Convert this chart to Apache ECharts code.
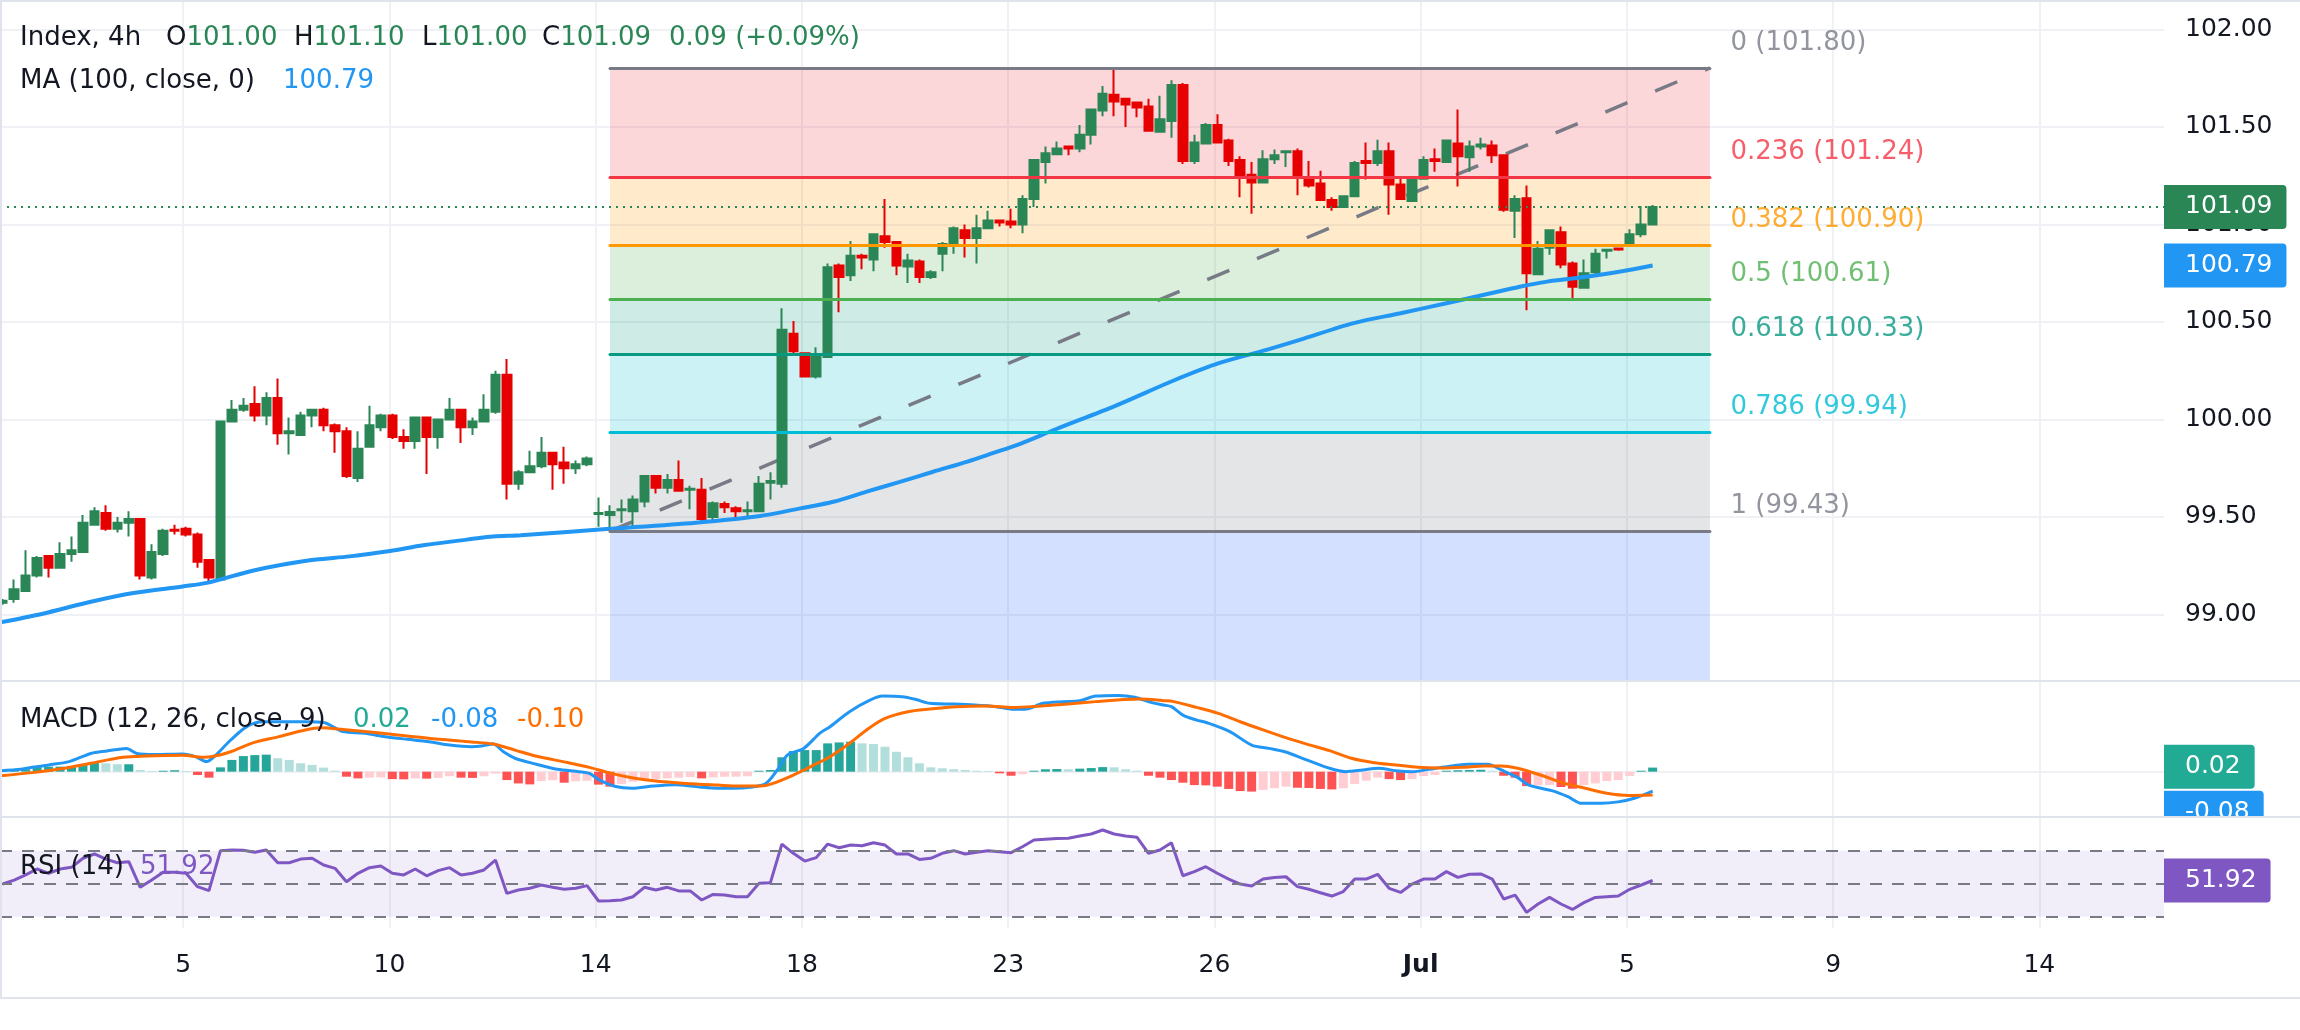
<!DOCTYPE html>
<html>
<head>
<meta charset="utf-8">
<title>Index, 4h</title>
<script src="https://cdn.jsdelivr.net/npm/echarts@6/dist/echarts.min.js"></script>
<style>
  html, body { margin: 0; padding: 0; background: #fff; }
  #main { width: 2300px; height: 1030px; }
</style>
</head>
<body>
<div id="main"></div>
<script>
// 4h bars, index 0 = first bar on screen
const opens = [
  99.06, 99.08, 99.12, 99.20, 99.30, 99.24, 99.31, 99.32, 99.46, 99.52,
  99.44, 99.47, 99.49, 99.19, 99.31, 99.435, 99.44, 99.41, 99.28, 99.18,
  99.99, 100.05, 100.08, 100.02, 100.11, 99.93, 99.92, 100.02, 100.05, 99.97,
  99.94, 99.70, 99.86, 99.96, 100.02, 99.91, 99.89, 100.01, 99.91, 100.00,
  100.05, 99.96, 99.99, 100.04, 100.23, 99.67, 99.73, 99.76, 99.83, 99.78,
  99.75, 99.77, 99.515, 99.51, 99.535, 99.53, 99.58, 99.71, 99.65, 99.69,
  99.64, 99.64, 99.50, 99.567, 99.545, 99.53, 99.53, 99.675, 99.67, 100.44,
  100.34, 100.22, 100.32, 100.79, 100.74, 100.84, 100.82, 100.94, 100.91, 100.785,
  100.81, 100.73, 100.85, 100.895, 100.97, 100.93, 100.98, 101.02, 101.015, 101.00,
  101.13, 101.32, 101.36, 101.40, 101.39, 101.46, 101.585, 101.665, 101.645, 101.625,
  101.605, 101.475, 101.53, 101.715, 101.325, 101.415, 101.51, 101.43, 101.33, 101.255,
  101.215, 101.335, 101.37, 101.375, 101.24, 101.21, 101.125, 101.09, 101.145, 101.325,
  101.315, 101.375, 101.205, 101.12, 101.235, 101.335, 101.32, 101.415, 101.345, 101.40,
  101.405, 101.355, 101.07, 101.135, 100.745, 100.88, 100.96, 100.80, 100.675, 100.755,
  100.865, 100.877, 100.90, 100.95, 101.00
];
const highs = [
  99.08, 99.18, 99.33, 99.30, 99.30, 99.37, 99.40, 99.51, 99.55, 99.56,
  99.50, 99.53, 99.49, 99.36, 99.44, 99.46, 99.45, 99.42, 99.28, 99.99,
  100.10, 100.11, 100.17, 100.14, 100.21, 100.01, 100.04, 100.05, 100.06, 99.98,
  99.96, 99.94, 100.07, 100.03, 100.03, 99.95, 100.01, 100.01, 100.00, 100.11,
  100.05, 100.01, 100.13, 100.25, 100.31, 99.74, 99.84, 99.91, 99.83, 99.86,
  99.79, 99.81, 99.60, 99.56, 99.59, 99.61, 99.71, 99.715, 99.72, 99.79,
  99.66, 99.70, 99.58, 99.58, 99.555, 99.58, 99.71, 99.73, 100.57, 100.505,
  100.34, 100.37, 100.80, 100.80, 100.915, 100.85, 100.95, 101.13, 100.915, 100.85,
  100.82, 100.765, 100.91, 100.99, 101.00, 101.05, 101.07, 101.02, 101.08, 101.15,
  101.33, 101.40, 101.425, 101.40, 101.51, 101.59, 101.71, 101.80, 101.65, 101.63,
  101.645, 101.66, 101.74, 101.725, 101.46, 101.52, 101.565, 101.44, 101.35, 101.32,
  101.38, 101.385, 101.375, 101.39, 101.325, 101.275, 101.14, 101.145, 101.325, 101.42,
  101.435, 101.42, 101.24, 101.245, 101.35, 101.39, 101.43, 101.59, 101.43, 101.445,
  101.43, 101.355, 101.15, 101.20, 100.915, 100.975, 100.99, 100.81, 100.82, 100.875,
  100.875, 100.88, 100.975, 101.095, 101.10
];
const lows = [
  99.05, 99.06, 99.12, 99.19, 99.19, 99.24, 99.27, 99.32, 99.46, 99.43,
  99.42, 99.40, 99.18, 99.18, 99.30, 99.41, 99.40, 99.24, 99.16, 99.18,
  99.99, 100.04, 99.99, 99.97, 99.87, 99.82, 99.92, 99.96, 99.94, 99.83,
  99.70, 99.68, 99.86, 99.94, 99.90, 99.85, 99.85, 99.72, 99.85, 100.00,
  99.88, 99.92, 99.99, 100.03, 99.59, 99.64, 99.73, 99.75, 99.64, 99.67,
  99.72, 99.76, 99.45, 99.43, 99.47, 99.44, 99.55, 99.62, 99.62, 99.635,
  99.54, 99.47, 99.48, 99.52, 99.49, 99.50, 99.53, 99.59, 99.65, 100.33,
  100.22, 100.21, 100.32, 100.55, 100.71, 100.77, 100.76, 100.88, 100.74, 100.70,
  100.70, 100.72, 100.76, 100.85, 100.83, 100.80, 100.98, 100.99, 100.98, 100.955,
  101.09, 101.21, 101.36, 101.355, 101.37, 101.41, 101.555, 101.555, 101.50, 101.55,
  101.475, 101.47, 101.445, 101.31, 101.31, 101.41, 101.42, 101.30, 101.14, 101.055,
  101.215, 101.31, 101.295, 101.15, 101.19, 101.12, 101.07, 101.085, 101.14, 101.23,
  101.30, 101.05, 101.125, 101.12, 101.235, 101.27, 101.315, 101.195, 101.27, 101.385,
  101.315, 101.065, 100.93, 100.56, 100.745, 100.845, 100.775, 100.61, 100.675, 100.745,
  100.825, 100.865, 100.90, 100.935, 101.00
];
const closes = [
  99.07, 99.13, 99.20, 99.29, 99.24, 99.31, 99.33, 99.47, 99.53, 99.44,
  99.47, 99.49, 99.20, 99.32, 99.43, 99.43, 99.41, 99.27, 99.19, 99.99,
  100.05, 100.07, 100.02, 100.11, 99.93, 99.94, 100.02, 100.05, 99.97, 99.94,
  99.71, 99.85, 99.97, 100.02, 99.91, 99.89, 100.01, 99.91, 100.00, 100.05,
  99.96, 99.99, 100.05, 100.23, 99.67, 99.73, 99.76, 99.83, 99.77, 99.75,
  99.77, 99.80, 99.52, 99.525, 99.54, 99.59, 99.71, 99.65, 99.69, 99.635,
  99.645, 99.49, 99.57, 99.55, 99.53, 99.535, 99.67, 99.685, 100.46, 100.35,
  100.22, 100.32, 100.78, 100.73, 100.84, 100.83, 100.95, 100.91, 100.79, 100.815,
  100.73, 100.755, 100.90, 100.98, 100.93, 100.98, 101.02, 101.01, 101.00, 101.13,
  101.33, 101.365, 101.39, 101.39, 101.46, 101.59, 101.67, 101.63, 101.615, 101.60,
  101.48, 101.54, 101.715, 101.325, 101.42, 101.51, 101.42, 101.325, 101.25, 101.215,
  101.335, 101.355, 101.375, 101.245, 101.20, 101.125, 101.09, 101.145, 101.315, 101.315,
  101.375, 101.205, 101.13, 101.24, 101.33, 101.325, 101.43, 101.35, 101.40, 101.41,
  101.355, 101.075, 101.13, 100.75, 100.875, 100.97, 100.795, 100.68, 100.75, 100.85,
  100.87, 100.872, 100.95, 101.00, 101.09
];

// MA (100) at bar positions
const maX = [-0.2, 3.5, 7.6, 11.4, 15.7, 17.8, 21.9, 26.8, 30.3, 33.8, 36.7, 40.5, 42.8, 45.2, 52.7,
  60.5, 66.1, 69.6, 72.5, 75.4, 78.3, 81.2, 84.2, 86.4, 88.8, 91.9, 97.1, 102.2, 106.2, 110.3,
  113.2, 117.9, 122.0, 126.3, 129.2, 132.4, 134.8, 137.7, 141.2, 144.0];
const maY = [98.96, 99.004, 99.064, 99.11, 99.144, 99.162, 99.226, 99.278, 99.298, 99.326, 99.355, 99.384, 99.40, 99.406, 99.438,
  99.471, 99.505, 99.544, 99.578, 99.63, 99.68, 99.732, 99.784, 99.827, 99.875, 99.95, 100.07, 100.20, 100.29, 100.357,
  100.408, 100.494, 100.545, 100.60, 100.638, 100.681, 100.707, 100.728, 100.759, 100.79];

// MACD (12, 26, close, 9)
const macdX = [-0.2, 1.6, 2.6, 4.0, 5.8, 7.7, 9.1, 10.8, 11.7, 13.3, 15.7, 16.8, 17.8, 18.5, 19.9, 21.3, 22.7, 24.5, 26.4, 28.1,
  28.8, 29.7, 31.6, 33.4, 35.3, 37.2, 39.0, 40.9, 41.8, 42.8, 43.7, 44.7, 46.5, 48.4, 50.3, 51.2, 52.1, 53.5, 54.9, 56.8,
  58.7, 60.1, 61.0, 62.4, 63.8, 65.2, 66.6, 67.6, 68.5, 69.9, 71.3, 72.2, 73.9, 75.6, 76.8, 78.5, 79.7, 80.9, 82.9, 84.8,
  86.7, 88.2, 89.2, 90.8, 92.5, 94.0, 95.4, 97.4, 98.8, 100.3, 101.3, 102.0, 103.0, 104.2, 105.1, 107.1, 109.0, 110.5, 111.9, 113.8,
  115.8, 117.2, 118.7, 120.1, 121.6, 123.0, 124.5, 126.0, 127.9, 129.6, 130.8, 132.2, 133.2, 135.2, 136.6, 137.8, 139.5, 141.0, 142.4, 144.0];
const macdY = [0.004, 0.010, 0.018, 0.028, 0.042, 0.076, 0.086, 0.097, 0.076, 0.072, 0.074, 0.063, 0.042, 0.065, 0.132, 0.188, 0.208, 0.208, 0.208, 0.204,
  0.188, 0.167, 0.160, 0.146, 0.135, 0.125, 0.111, 0.104, 0.107, 0.115, 0.083, 0.056, 0.032, 0.010, 0.000, -0.007, -0.035, -0.062, -0.069, -0.060,
  -0.055, -0.060, -0.065, -0.069, -0.069, -0.065, -0.049, 0.007, 0.070, 0.097, 0.160, 0.1875, 0.25, 0.296, 0.315, 0.3125, 0.301, 0.285, 0.282, 0.278,
  0.271, 0.26, 0.26, 0.285, 0.292, 0.296, 0.315, 0.318, 0.31, 0.288, 0.278, 0.271, 0.236, 0.215, 0.204, 0.167, 0.111, 0.097, 0.083, 0.049,
  0.014, 0.0, 0.007, 0.014, 0.004, 0.0, 0.010, 0.021, 0.031, 0.031, 0.007, -0.024, -0.056, -0.079, -0.104, -0.132, -0.132, -0.126, -0.111, -0.081];
const signalX = [-0.2, 2.6, 5.4, 7.7, 10.5, 12.4, 15.7, 17.5, 18.5, 19.9, 21.7, 24.1, 26.4, 27.8, 29.7, 32.5, 35.3, 38.1, 40.9, 42.8,
  44.7, 46.5, 49.3, 51.2, 53.1, 54.9, 56.8, 59.6, 62.4, 64.3, 66.2, 67.1, 69.0, 70.8, 72.2, 73.7, 75.6, 77.0, 79.0, 80.9,
  83.3, 85.8, 88.2, 90.6, 93.0, 95.4, 97.9, 99.3, 101.3, 102.2, 104.2, 106.1, 108.0, 110.0, 111.9, 113.8, 115.8, 117.7, 119.7, 121.6,
  123.5, 125.5, 127.4, 129.3, 130.8, 132.2, 134.2, 136.1, 138.1, 140.0, 141.9, 144.0];
const signalY = [-0.017, -0.004, 0.014, 0.035, 0.060, 0.065, 0.068, 0.060, 0.065, 0.083, 0.118, 0.146, 0.174, 0.183, 0.176, 0.163, 0.149, 0.135, 0.124, 0.115,
  0.090, 0.065, 0.038, 0.018, -0.007, -0.025, -0.038, -0.049, -0.056, -0.060, -0.060, -0.051, -0.014, 0.028, 0.0625, 0.111, 0.181, 0.222, 0.25, 0.261,
  0.271, 0.274, 0.268, 0.274, 0.282, 0.292, 0.301, 0.303, 0.296, 0.292, 0.268, 0.243, 0.208, 0.174, 0.143, 0.115, 0.0875, 0.056, 0.0375, 0.028,
  0.018, 0.015, 0.018, 0.024, 0.024, 0.014, -0.014, -0.046, -0.069, -0.09, -0.099, -0.097];
const histVals = [
  0.003, 0.007, 0.010, 0.018, 0.021, 0.021, 0.024, 0.028, 0.037, 0.035,
  0.031, 0.031, 0.007, 0.003, 0.004, 0.006, 0.003, -0.014, -0.025, 0.018,
  0.049, 0.065, 0.069, 0.071, 0.056, 0.049, 0.035, 0.028, 0.017, 0.004,
  -0.021, -0.028, -0.025, -0.024, -0.031, -0.032, -0.028, -0.029, -0.026, -0.019,
  -0.025, -0.026, -0.019, -0.008, -0.035, -0.049, -0.053, -0.039, -0.036, -0.046,
  -0.040, -0.038, -0.054, -0.0625, -0.051, -0.042, -0.035, -0.031, -0.028, -0.025,
  -0.022, -0.028, -0.024, -0.021, -0.021, -0.019, 0.004, 0.007, 0.060, 0.086,
  0.090, 0.090, 0.118, 0.122, 0.125, 0.118, 0.115, 0.104, 0.083, 0.060,
  0.035, 0.018, 0.014, 0.010, 0.007, 0.004, 0.003, -0.007, -0.017, -0.011,
  0.004, 0.010, 0.011, 0.010, 0.0125, 0.015, 0.019, 0.018, 0.010, 0.004,
  -0.017, -0.025, -0.035, -0.046, -0.056, -0.057, -0.0625, -0.072, -0.081, -0.083,
  -0.076, -0.069, -0.0625, -0.067, -0.068, -0.072, -0.074, -0.069, -0.051, -0.0375,
  -0.025, -0.031, -0.035, -0.031, -0.018, -0.014, 0.004, 0.006, 0.007, 0.008,
  0.004, -0.017, -0.025, -0.060, -0.057, -0.056, -0.064, -0.071, -0.056, -0.049,
  -0.039, -0.035, -0.018, 0.004, 0.017
];

// RSI (14)
const rsiVals = [
  49.8, 52.2, 55.3, 58.9, 56.3, 58.9, 59.9, 65.4, 68.0, 64.9,
  62.7, 63.3, 47.8, 52.2, 56.9, 56.9, 56.3, 48.2, 45.8, 70.0,
  70.4, 70.2, 69.0, 70.4, 62.7, 62.7, 64.9, 65.4, 61.3, 59.3,
  51.2, 56.3, 59.7, 60.7, 56.3, 55.3, 58.9, 54.8, 57.9, 59.7,
  55.3, 56.3, 58.3, 64.3, 44.1, 46.2, 47.2, 49.2, 47.8, 46.6,
  47.2, 48.8, 39.5, 39.7, 40.1, 42.1, 47.8, 46.2, 47.8, 45.6,
  45.6, 40.1, 43.5, 43.1, 42.1, 42.1, 50.2, 50.6, 74.0, 68.4,
  63.7, 65.8, 74.0, 71.8, 73.4, 73.0, 74.8, 73.4, 68.0, 68.0,
  64.7, 65.4, 68.4, 70.0, 68.0, 69.0, 70.0, 69.4, 68.8, 72.4,
  76.5, 76.9, 77.3, 77.5, 78.9, 80.1, 82.5, 80.1, 78.9, 78.1,
  68.4, 70.4, 74.8, 54.8, 57.3, 60.3, 56.3, 52.8, 49.8, 48.6,
  52.8, 53.8, 54.2, 48.2, 46.6, 44.5, 42.5, 45.2, 52.8, 52.8,
  55.7, 47.2, 44.7, 49.8, 52.8, 52.8, 57.3, 53.8, 55.7, 55.9,
  52.8, 40.7, 43.1, 32.6, 37.7, 41.7, 37.7, 34.4, 38.5, 41.7,
  42.1, 42.5, 46.6, 49.2, 51.92
];
const rsiLevels = [70, 50, 30];

// time scale: bar positions of the day labels
const dayTicks = [15.75, 33.75, 51.75, 69.75, 87.75, 105.75, 123.75, 141.75, 159.75, 177.75];
const dayLabels = ['5', '10', '14', '18', '23', '26', 'Jul', '5', '9', '14'];
const priceTicks = [99, 99.5, 100, 100.5, 101, 101.5, 102];

// fib retracement drawn from the low bar to a projected bar at the high
const fibLow = 99.4274, fibHigh = 101.8024, fibFrom = 53, fibTo = 149;
const fibRatios = [0, 0.236, 0.382, 0.5, 0.618, 0.786, 1, 1.618];
const fibColors = ['#787b86', '#f23645', '#ff9800', '#4caf50', '#089981', '#00bcd4', '#787b86', '#2962ff'];

// visible ranges of the panes
const xMin = -0.24, xMax = 188.63;
const priceMin = 98.659, priceMax = 102.151;

const FONT = '"DejaVu Sans", sans-serif';
const upColor = '#2b8656', downColor = '#e60000';
const dark = '#131722', gridColor = '#eff1f4';
const last = closes.length - 1;

function rgba(hex, a) {
  const n = parseInt(hex.slice(1), 16);
  return 'rgba(' + (n >> 16) + ',' + ((n >> 8) & 255) + ',' + (n & 255) + ',' + a + ')';
}
function pairs(xs, ys) { return xs.map((x, k) => [x, ys[k]]); }

const fibLevels = fibRatios.map(r => fibHigh - r * (fibHigh - fibLow));
const candleData = closes.map((c, i) => [i, opens[i], c, lows[i], highs[i]]);
const histData = histVals.map((v, i) => {
  const prev = i > 0 ? histVals[i - 1] : v;
  let color;
  if (v >= 0) color = v >= prev ? '#26a69a' : '#b2dfdb';
  else color = v < prev ? '#ff5252' : '#ffcdd2';
  return { value: [i, v], itemStyle: { color } };
});

function valueBox(bg, extra) {
  return Object.assign({
    show: true, position: 'end', distance: 0,
    formatter: p => Number(p.value).toFixed(2),
    backgroundColor: bg, color: '#fff', fontFamily: FONT, fontSize: 25,
    lineHeight: 28, padding: [8, 14, 8, 21], borderRadius: [0, 4, 4, 0]
  }, extra || {});
}

function timeAxis(gridIndex, withLabels) {
  return {
    type: 'value', gridIndex, min: xMin, max: xMax,
    axisLine: { show: false },
    axisTick: { show: false, customValues: dayTicks },
    axisLabel: withLabels ? {
      show: true, customValues: dayTicks, margin: 25,
      fontFamily: FONT, fontSize: 25, color: dark,
      formatter: v => {
        const k = dayTicks.findIndex(t => Math.abs(t - v) < 0.01);
        const s = k >= 0 ? dayLabels[k] : '';
        return s === 'Jul' ? '{b|Jul}' : s;
      },
      rich: { b: { fontWeight: 'bold', fontFamily: FONT, fontSize: 25, color: dark } }
    } : { show: false },
    splitLine: { show: true, lineStyle: { color: gridColor, width: 2 } }
  };
}

const rich = {
  d: { fill: dark, fontFamily: FONT, fontSize: 26 },
  g: { fill: upColor, fontFamily: FONT, fontSize: 26 },
  b: { fill: '#2196f3', fontFamily: FONT, fontSize: 26 },
  t: { fill: '#22ab94', fontFamily: FONT, fontSize: 26 },
  o: { fill: '#ff6d00', fontFamily: FONT, fontSize: 26 },
  p: { fill: '#7e57c2', fontFamily: FONT, fontSize: 26 }
};
function legend(x, y, s) {
  return { type: 'text', x, y, z: 100, silent: true,
    style: { text: s, rich, fontFamily: FONT, fontSize: 26, verticalAlign: 'middle' } };
}
function hline(y) {
  return { type: 'rect', z: 100, silent: true, shape: { x: 0, y: y - 1, width: 2300, height: 2 }, style: { fill: '#e0e3eb' } };
}

const chg = closes[last] - closes[last - 1];
const pct = chg / closes[last - 1] * 100;
const fmt = v => v.toFixed(2);

const option = {
  animation: false,
  backgroundColor: '#ffffff',
  textStyle: { fontFamily: FONT },
  grid: [
    { left: 0, right: 136, top: 0, height: 681 },
    { left: 0, right: 136, top: 681, height: 136 },
    { left: 0, right: 136, top: 817, height: 111 }
  ],
  xAxis: [timeAxis(0, false), timeAxis(1, false), timeAxis(2, true)],
  yAxis: [
    {
      type: 'value', gridIndex: 0, position: 'right', min: priceMin, max: priceMax,
      axisLine: { show: false },
      axisTick: { show: false, customValues: priceTicks },
      axisLabel: { customValues: priceTicks, formatter: v => v.toFixed(2), margin: 21,
        fontFamily: FONT, fontSize: 25, color: dark },
      splitLine: { show: true, lineStyle: { color: gridColor, width: 2 } }
    },
    {
      type: 'value', gridIndex: 1, position: 'right', min: -0.189, max: 0.378,
      axisLine: { show: false },
      axisTick: { show: false, customValues: [0] },
      axisLabel: { show: false },
      splitLine: { show: true, lineStyle: { color: gridColor, width: 2 } }
    },
    {
      type: 'value', gridIndex: 2, position: 'right', min: 23.15, max: 90.4,
      axisLine: { show: false }, axisTick: { show: false },
      axisLabel: { show: false }, splitLine: { show: false }
    }
  ],
  graphic: [
    hline(1), hline(681), hline(817), hline(998),
    { type: 'rect', z: 100, silent: true, shape: { x: 0, y: 0, width: 2, height: 999 }, style: { fill: '#e0e3eb' } },
    { type: 'rect', z: 99, silent: true, shape: { x: 2164, y: 818, width: 136, height: 30 }, style: { fill: '#ffffff' } },
    legend(20, 38, '{d|Index, 4h}'),
    legend(166, 38, '{d|O}{g|' + fmt(opens[last]) + '}'),
    legend(294, 38, '{d|H}{g|' + fmt(highs[last]) + '}'),
    legend(422, 38, '{d|L}{g|' + fmt(lows[last]) + '}'),
    legend(542, 38, '{d|C}{g|' + fmt(closes[last]) + '}'),
    legend(669, 38, '{g|' + fmt(chg) + ' (' + (pct >= 0 ? '+' : '') + fmt(pct) + '%)}'),
    legend(20, 81, '{d|MA (100, close, 0)}'),
    legend(283, 81, '{b|' + fmt(maY[maY.length - 1]) + '}'),
    legend(20, 720, '{d|MACD (12, 26, close, 9)}'),
    legend(353, 720, '{t|' + fmt(histVals[last]) + '}'),
    legend(431, 720, '{b|' + fmt(macdY[macdY.length - 1]) + '}'),
    legend(517, 720, '{o|' + fmt(signalY[signalY.length - 1]) + '}'),
    legend(20, 867, '{d|RSI (14)}'),
    legend(140, 867, '{p|' + fmt(rsiVals[last]) + '}')
  ],
  series: [
    {
      name: 'fib', type: 'line', xAxisIndex: 0, yAxisIndex: 0, z: 1, silent: true,
      data: [[fibFrom, fibLow], [fibTo, fibHigh]],
      symbol: 'none',
      lineStyle: { color: '#787b86', width: 3.5, type: [24, 30] },
      markArea: {
        silent: true,
        data: fibLevels.slice(0, 7).map((lv, k) => [
          { xAxis: fibFrom, yAxis: lv, itemStyle: { color: rgba(fibColors[k + 1], 0.2) } },
          { xAxis: fibTo, yAxis: Math.max(fibLevels[k + 1], priceMin) }
        ])
      },
      markLine: {
        silent: true, symbol: 'none', label: { show: false },
        data: fibLevels.slice(0, 7).map((lv, k) => [
          { coord: [fibFrom, lv], lineStyle: { color: fibColors[k], width: 3, type: 'solid', cap: 'round' } },
          { coord: [fibTo, lv] }
        ])
      }
    },
    {
      name: 'fib labels', type: 'scatter', xAxisIndex: 0, yAxisIndex: 0, z: 5, silent: true,
      symbol: 'circle', symbolSize: 1, itemStyle: { color: 'transparent' },
      data: fibLevels.slice(0, 7).map((lv, k) => ({ value: [fibTo, lv], label: { color: fibColors[k] } })),
      label: {
        show: true, position: 'right', distance: 20, offset: [0, -25],
        fontFamily: FONT, fontSize: 26,
        formatter: p => fibRatios[p.dataIndex] + ' (' + fibLevels[p.dataIndex].toFixed(2) + ')'
      }
    },
    {
      name: 'Index', type: 'candlestick', xAxisIndex: 0, yAxisIndex: 0, z: 3,
      data: candleData, encode: { x: 0, y: [1, 2, 3, 4] },
      barWidth: 9,
      itemStyle: { color: upColor, color0: downColor, borderColor: upColor, borderColor0: downColor, borderWidth: 2 },
      markLine: {
        silent: true, symbol: 'none',
        data: [{ yAxis: closes[last] }],
        lineStyle: { color: upColor, width: 2, type: [2, 5] },
        label: valueBox(upColor)
      }
    },
    {
      name: 'MA', type: 'line', xAxisIndex: 0, yAxisIndex: 0, z: 4, silent: true,
      data: pairs(maX, maY), symbol: 'none', smooth: 0.3,
      lineStyle: { color: '#2196f3', width: 4 },
      markLine: {
        silent: true, symbol: 'none',
        data: [{ yAxis: maY[maY.length - 1] }],
        lineStyle: { color: 'transparent', width: 0 },
        label: valueBox('#2196f3')
      }
    },
    {
      name: 'Histogram', type: 'bar', xAxisIndex: 1, yAxisIndex: 1, z: 2, silent: true,
      data: histData, barWidth: 9,
      markLine: {
        silent: true, symbol: 'none',
        data: [{ yAxis: histVals[last] }],
        lineStyle: { color: 'transparent', width: 0 },
        label: valueBox('#22ab94')
      }
    },
    {
      name: 'MACD', type: 'line', xAxisIndex: 1, yAxisIndex: 1, z: 3, silent: true,
      data: pairs(macdX, macdY), symbol: 'none', smooth: 0.3,
      lineStyle: { color: '#2196f3', width: 3 },
      markLine: {
        silent: true, symbol: 'none',
        data: [{ yAxis: macdY[macdY.length - 1] }],
        lineStyle: { color: 'transparent', width: 0 },
        label: valueBox('#2196f3', { verticalAlign: 'top' })
      }
    },
    {
      name: 'Signal', type: 'line', xAxisIndex: 1, yAxisIndex: 1, z: 3, silent: true,
      data: pairs(signalX, signalY), symbol: 'none', smooth: 0.3,
      lineStyle: { color: '#ff6d00', width: 3 }
    },
    {
      name: 'RSI', type: 'line', xAxisIndex: 2, yAxisIndex: 2, z: 3, silent: true,
      data: rsiVals.map((v, i) => [i, v]), symbol: 'none',
      lineStyle: { color: '#7e57c2', width: 3 },
      markArea: {
        silent: true,
        itemStyle: { color: 'rgba(126,87,194,0.1)' },
        data: [[{ yAxis: rsiLevels[2] }, { yAxis: rsiLevels[0] }]]
      },
      markLine: {
        silent: true, symbol: 'none',
        data: rsiLevels.map(l => ({ yAxis: l, label: { show: false } })).concat([
          { yAxis: rsiVals[last], lineStyle: { color: 'transparent', width: 0 }, label: valueBox('#7e57c2') }
        ]),
        lineStyle: { color: '#787b86', width: 2, type: [12, 10] }
      }
    }
  ]
};

const chart = echarts.init(document.getElementById('main'));
chart.setOption(option);
</script>
</body>
</html>
